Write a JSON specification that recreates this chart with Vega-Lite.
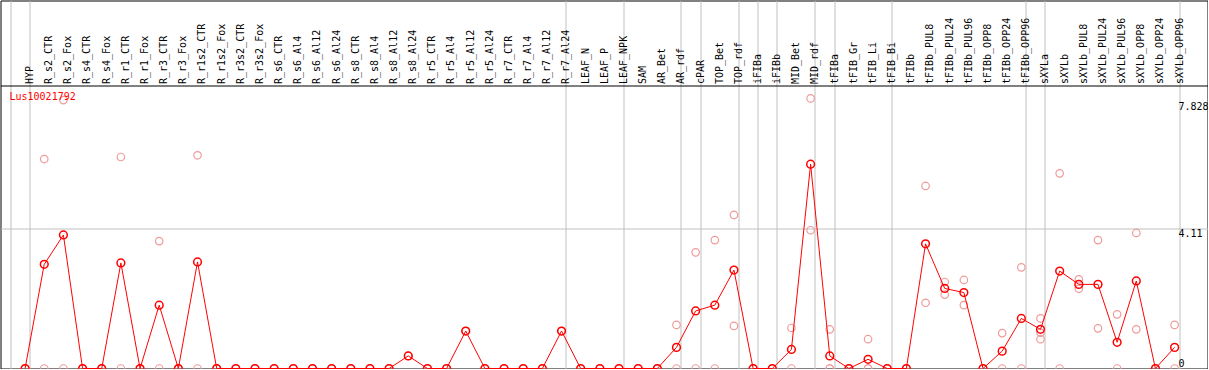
{
  "$schema": "https://vega.github.io/schema/vega-lite/v6.json",
  "width": 1207,
  "height": 368,
  "autosize": {"type": "none"},
  "padding": {"left": 0.5, "top": 0.5, "right": 0, "bottom": 0},
  "background": "white",
  "title": {"text": "Lus10021792", "orient": "top", "anchor": "start", "frame": "group", "offset": -109, "dx": 9, "baseline": "alphabetic", "color": "#ff0000", "font": "DejaVu Sans Mono", "fontSize": 10, "fontWeight": "normal"},
  "config": {"view": {"stroke": "black", "strokeWidth": 1}},
  "datasets": {
    "means": [
      {"sample": "HYP", "value": 0},
      {"sample": "R_s2_CTR", "value": 3.06},
      {"sample": "R_s2_Fox", "value": 3.92},
      {"sample": "R_s4_CTR", "value": 0},
      {"sample": "R_s4_Fox", "value": 0},
      {"sample": "R_r1_CTR", "value": 3.1},
      {"sample": "R_r1_Fox", "value": 0},
      {"sample": "R_r3_CTR", "value": 1.86},
      {"sample": "R_r3_Fox", "value": 0},
      {"sample": "R_r1s2_CTR", "value": 3.13},
      {"sample": "R_r1s2_Fox", "value": 0},
      {"sample": "R_r3s2_CTR", "value": 0},
      {"sample": "R_r3s2_Fox", "value": 0},
      {"sample": "R_s6_CTR", "value": 0},
      {"sample": "R_s6_Al4", "value": 0},
      {"sample": "R_s6_Al12", "value": 0},
      {"sample": "R_s6_Al24", "value": 0},
      {"sample": "R_s8_CTR", "value": 0},
      {"sample": "R_s8_Al4", "value": 0},
      {"sample": "R_s8_Al12", "value": 0},
      {"sample": "R_s8_Al24", "value": 0.37},
      {"sample": "R_r5_CTR", "value": 0},
      {"sample": "R_r5_Al4", "value": 0},
      {"sample": "R_r5_Al12", "value": 1.1},
      {"sample": "R_r5_Al24", "value": 0},
      {"sample": "R_r7_CTR", "value": 0},
      {"sample": "R_r7_Al4", "value": 0},
      {"sample": "R_r7_Al12", "value": 0},
      {"sample": "R_r7_Al24", "value": 1.1},
      {"sample": "LEAF_N", "value": 0},
      {"sample": "LEAF_P", "value": 0},
      {"sample": "LEAF_NPK", "value": 0},
      {"sample": "SAM", "value": 0},
      {"sample": "AR_Bet", "value": 0},
      {"sample": "AR_rdf", "value": 0.62},
      {"sample": "cPAR", "value": 1.69},
      {"sample": "TOP_Bet", "value": 1.86},
      {"sample": "TOP_rdf", "value": 2.89},
      {"sample": "iFIBa", "value": 0},
      {"sample": "iFIBb", "value": 0},
      {"sample": "MID_Bet", "value": 0.56},
      {"sample": "MID_rdf", "value": 6.0},
      {"sample": "tFIBa", "value": 0.37},
      {"sample": "tFIB_Gr", "value": 0},
      {"sample": "tFIB_Li", "value": 0.27},
      {"sample": "tFIB_Bi", "value": 0},
      {"sample": "tFIBb", "value": 0},
      {"sample": "tFIBb_PUL8", "value": 3.66},
      {"sample": "tFIBb_PUL24", "value": 2.35},
      {"sample": "tFIBb_PUL96", "value": 2.23},
      {"sample": "tFIBb_OPP8", "value": 0},
      {"sample": "tFIBb_OPP24", "value": 0.51},
      {"sample": "tFIBb_OPP96", "value": 1.47},
      {"sample": "sXYLa", "value": 1.15},
      {"sample": "sXYLb", "value": 2.86},
      {"sample": "sXYLb_PUL8", "value": 2.47},
      {"sample": "sXYLb_PUL24", "value": 2.47},
      {"sample": "sXYLb_PUL96", "value": 0.77},
      {"sample": "sXYLb_OPP8", "value": 2.57},
      {"sample": "sXYLb_OPP24", "value": 0},
      {"sample": "sXYLb_OPP96", "value": 0.62}
    ],
    "reps": [
      {"sample": "HYP", "value": 0}, {"sample": "HYP", "value": 0},
      {"sample": "R_s2_CTR", "value": 6.15}, {"sample": "R_s2_CTR", "value": 0},
      {"sample": "R_s2_Fox", "value": 7.88}, {"sample": "R_s2_Fox", "value": 0},
      {"sample": "R_s4_CTR", "value": 0}, {"sample": "R_s4_CTR", "value": 0},
      {"sample": "R_s4_Fox", "value": 0}, {"sample": "R_s4_Fox", "value": 0},
      {"sample": "R_r1_CTR", "value": 6.21}, {"sample": "R_r1_CTR", "value": 0},
      {"sample": "R_r1_Fox", "value": 0}, {"sample": "R_r1_Fox", "value": 0},
      {"sample": "R_r3_CTR", "value": 3.74}, {"sample": "R_r3_CTR", "value": 0},
      {"sample": "R_r3_Fox", "value": 0}, {"sample": "R_r3_Fox", "value": 0},
      {"sample": "R_r1s2_CTR", "value": 6.26}, {"sample": "R_r1s2_CTR", "value": 0},
      {"sample": "R_r1s2_Fox", "value": 0}, {"sample": "R_r1s2_Fox", "value": 0},
      {"sample": "R_r3s2_CTR", "value": 0}, {"sample": "R_r3s2_Fox", "value": 0},
      {"sample": "R_s6_CTR", "value": 0}, {"sample": "R_s6_Al4", "value": 0},
      {"sample": "R_s6_Al12", "value": 0}, {"sample": "R_s6_Al24", "value": 0},
      {"sample": "R_s8_CTR", "value": 0}, {"sample": "R_s8_Al4", "value": 0},
      {"sample": "R_s8_Al12", "value": 0}, {"sample": "R_s8_Al24", "value": 0.37},
      {"sample": "R_r5_CTR", "value": 0}, {"sample": "R_r5_Al4", "value": 0},
      {"sample": "R_r5_Al12", "value": 1.1}, {"sample": "R_r5_Al24", "value": 0},
      {"sample": "R_r7_CTR", "value": 0}, {"sample": "R_r7_Al4", "value": 0},
      {"sample": "R_r7_Al12", "value": 0}, {"sample": "R_r7_Al24", "value": 1.1},
      {"sample": "LEAF_N", "value": 0}, {"sample": "LEAF_P", "value": 0},
      {"sample": "LEAF_NPK", "value": 0}, {"sample": "SAM", "value": 0},
      {"sample": "AR_Bet", "value": 0}, {"sample": "AR_Bet", "value": 0},
      {"sample": "AR_rdf", "value": 1.28}, {"sample": "AR_rdf", "value": 0},
      {"sample": "cPAR", "value": 3.41}, {"sample": "cPAR", "value": 0},
      {"sample": "TOP_Bet", "value": 3.77}, {"sample": "TOP_Bet", "value": 0},
      {"sample": "TOP_rdf", "value": 4.51}, {"sample": "TOP_rdf", "value": 1.25},
      {"sample": "iFIBa", "value": 0}, {"sample": "iFIBb", "value": 0},
      {"sample": "MID_Bet", "value": 1.19}, {"sample": "MID_Bet", "value": 0},
      {"sample": "MID_rdf", "value": 7.93}, {"sample": "MID_rdf", "value": 4.06},
      {"sample": "tFIBa", "value": 1.15}, {"sample": "tFIBa", "value": 0}, {"sample": "tFIBa", "value": 0},
      {"sample": "tFIB_Gr", "value": 0},
      {"sample": "tFIB_Li", "value": 0.86}, {"sample": "tFIB_Li", "value": 0}, {"sample": "tFIB_Li", "value": 0},
      {"sample": "tFIB_Bi", "value": 0}, {"sample": "tFIBb", "value": 0},
      {"sample": "tFIBb_PUL8", "value": 5.36}, {"sample": "tFIBb_PUL8", "value": 1.93},
      {"sample": "tFIBb_PUL24", "value": 2.54}, {"sample": "tFIBb_PUL24", "value": 2.17},
      {"sample": "tFIBb_PUL96", "value": 2.6}, {"sample": "tFIBb_PUL96", "value": 1.86},
      {"sample": "tFIBb_OPP8", "value": 0},
      {"sample": "tFIBb_OPP24", "value": 1.04}, {"sample": "tFIBb_OPP24", "value": 0},
      {"sample": "tFIBb_OPP96", "value": 2.97}, {"sample": "tFIBb_OPP96", "value": 0},
      {"sample": "sXYLa", "value": 1.47}, {"sample": "sXYLa", "value": 1.05}, {"sample": "sXYLa", "value": 0.86},
      {"sample": "sXYLb", "value": 5.73}, {"sample": "sXYLb", "value": 0},
      {"sample": "sXYLb_PUL8", "value": 2.62}, {"sample": "sXYLb_PUL8", "value": 2.34},
      {"sample": "sXYLb_PUL24", "value": 3.77}, {"sample": "sXYLb_PUL24", "value": 1.18},
      {"sample": "sXYLb_PUL96", "value": 1.59}, {"sample": "sXYLb_PUL96", "value": 0},
      {"sample": "sXYLb_OPP8", "value": 3.98}, {"sample": "sXYLb_OPP8", "value": 1.15},
      {"sample": "sXYLb_OPP24", "value": 0},
      {"sample": "sXYLb_OPP96", "value": 1.28}, {"sample": "sXYLb_OPP96", "value": 0}
    ]
  },
  "encoding": {
    "x": {
      "field": "sample",
      "type": "ordinal",
      "scale": {
        "type": "point",
        "domain": ["", "HYP", "R_s2_CTR", "R_s2_Fox", "R_s4_CTR", "R_s4_Fox", "R_r1_CTR", "R_r1_Fox", "R_r3_CTR", "R_r3_Fox", "R_r1s2_CTR", "R_r1s2_Fox", "R_r3s2_CTR", "R_r3s2_Fox", "R_s6_CTR", "R_s6_Al4", "R_s6_Al12", "R_s6_Al24", "R_s8_CTR", "R_s8_Al4", "R_s8_Al12", "R_s8_Al24", "R_r5_CTR", "R_r5_Al4", "R_r5_Al12", "R_r5_Al24", "R_r7_CTR", "R_r7_Al4", "R_r7_Al12", "R_r7_Al24", "LEAF_N", "LEAF_P", "LEAF_NPK", "SAM", "AR_Bet", "AR_rdf", "cPAR", "TOP_Bet", "TOP_rdf", "iFIBa", "iFIBb", "MID_Bet", "MID_rdf", "tFIBa", "tFIB_Gr", "tFIB_Li", "tFIB_Bi", "tFIBb", "tFIBb_PUL8", "tFIBb_PUL24", "tFIBb_PUL96", "tFIBb_OPP8", "tFIBb_OPP24", "tFIBb_OPP96", "sXYLa", "sXYLb", "sXYLb_PUL8", "sXYLb_PUL24", "sXYLb_PUL96", "sXYLb_OPP8", "sXYLb_OPP24", "sXYLb_OPP96"],
        "padding": 1.263,
        "align": 0.1417
      },
      "axis": {
        "orient": "top",
        "offset": -85,
        "title": null,
        "domain": true,
        "domainColor": "black",
        "domainWidth": 1,
        "ticks": false,
        "tickSize": 0,
        "tickOffset": 4.4,
        "labelOffset": 0,
        "labelAngle": 270,
        "labelAlign": "left",
        "labelBaseline": "middle",
        "labelPadding": 2,
        "labelFont": "DejaVu Sans Mono",
        "labelFontSize": 10,
        "labelColor": "black",
        "labelOverlap": false,
        "labelBound": false,
        "labelLimit": 300,
        "grid": true,
        "gridColor": "#c0c0c0",
        "gridWidth": 1,
        "gridOpacity": {"condition": {"test": "indexof(['', 'HYP', 'R_r7_Al24', 'LEAF_NPK', 'AR_rdf', 'cPAR', 'TOP_rdf', 'iFIBa', 'iFIBb', 'MID_rdf', 'tFIBa', 'tFIB_Bi', 'tFIBb_OPP96', 'sXYLa', 'sXYLb_OPP96'], datum.value) >= 0", "value": 1}, "value": 0}
      }
    },
    "y": {
      "field": "value",
      "type": "quantitative",
      "scale": {"domain": [0, 10.805], "nice": false, "zero": true},
      "axis": {
        "orient": "right",
        "offset": -29.5,
        "title": null,
        "values": [0, 4.11, 7.828],
        "format": ".4~g",
        "domain": false,
        "ticks": false,
        "tickSize": 0,
        "labelPadding": 0,
        "labelAlign": "left",
        "labelBaseline": {"condition": {"test": "datum.value === 0", "value": "bottom"}, "value": "top"},
        "labelFont": "DejaVu Sans Mono",
        "labelFontSize": 10,
        "labelColor": "black",
        "labelOverlap": false,
        "labelBound": false,
        "grid": true,
        "gridColor": "#c0c0c0",
        "gridWidth": 1,
        "gridOpacity": {"condition": {"test": "datum.value === 4.11", "value": 1}, "value": 0}
      }
    }
  },
  "layer": [
    {
      "data": {"name": "reps"},
      "mark": {"type": "point", "shape": "circle", "filled": false, "color": "#f09a9a", "size": 56, "strokeWidth": 1.2, "opacity": 1}
    },
    {
      "data": {"name": "means"},
      "mark": {"type": "line", "color": "#ff0000", "strokeWidth": 1},
      "encoding": {"order": {"value": null}}
    },
    {
      "data": {"name": "means"},
      "mark": {"type": "point", "shape": "circle", "filled": false, "color": "#ff0000", "size": 60, "strokeWidth": 1.5, "opacity": 1}
    }
  ]
}
